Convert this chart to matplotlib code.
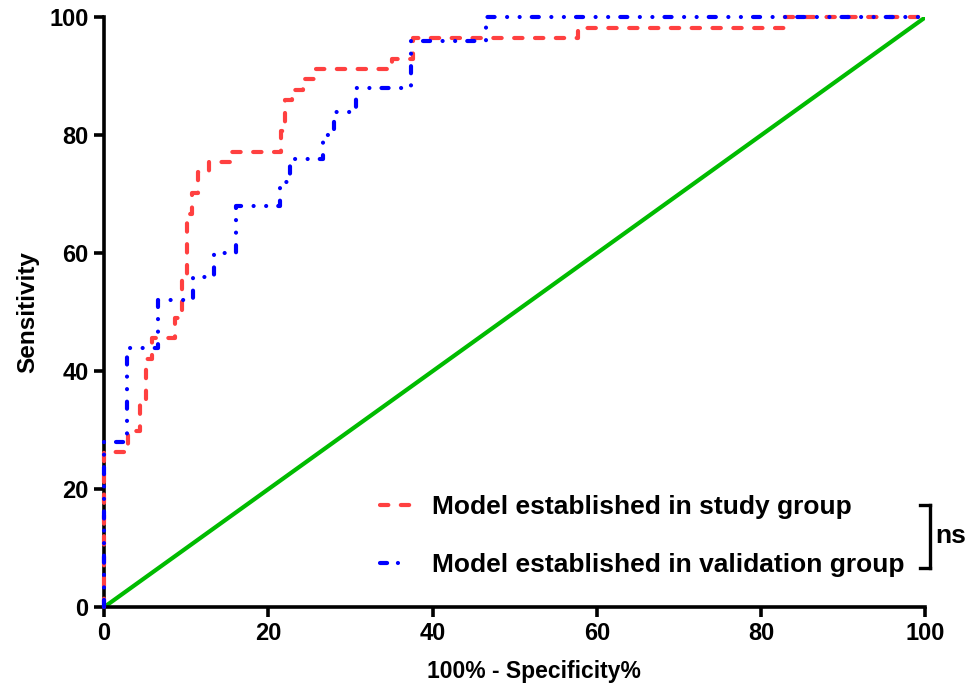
import matplotlib
matplotlib.use("Agg")

import matplotlib.pyplot as plt
from matplotlib.lines import Line2D

plt.rcParams["font.family"] = ["Liberation Sans", "DejaVu Sans"]
plt.rcParams["font.weight"] = "bold"

# ROC step points (100% - specificity, sensitivity)
study_fpr = [0, 0, 2.9, 2.9, 4.4, 4.4, 5.1, 5.1, 5.8, 5.8, 8.6, 8.6, 9.5, 9.5,
             10.1, 10.1, 10.7, 10.7, 11.4, 11.4, 12.8, 12.8, 15.6, 15.6,
             21.5, 21.5, 22.0, 22.0, 22.9, 22.9, 24.2, 24.2, 25.7, 25.7,
             35.1, 35.1, 37.6, 37.6, 57.7, 57.7, 82.8, 82.8, 100]
study_tpr = [0, 26.3, 26.3, 29.8, 29.8, 35.1, 35.1, 42.1, 42.1, 45.6, 45.6,
             49.1, 49.1, 56.1, 56.1, 66.7, 66.7, 70.2, 70.2, 73.7, 73.7,
             75.4, 75.4, 77.2, 77.2, 80.7, 80.7, 86.0, 86.0, 87.7, 87.7,
             89.5, 89.5, 91.2, 91.2, 93.0, 93.0, 96.5, 96.5, 98.2, 98.2,
             100, 100]

valid_fpr = [0, 0, 2.8, 2.8, 6.6, 6.6, 10.8, 10.8, 13.4, 13.4,
             16.1, 16.1, 21.4, 21.4, 22.7, 22.7, 26.7, 26.7, 28.0, 28.0,
             30.7, 30.7, 37.4, 37.4, 46.5, 46.5, 100]
valid_tpr = [0, 28.0, 28.0, 44.0, 44.0, 52.0, 52.0, 56.0, 56.0,
             60.0, 60.0, 68.0, 68.0, 72.0, 72.0, 76.0, 76.0, 80.0, 80.0,
             84.0, 84.0, 88.0, 88.0, 96.0, 96.0, 100, 100]

ref_line = [0, 100]

labels = ["Model established in study group",
          "Model established in validation group"]

RED = "#ff4040"
BLUE = "#0000ff"
GREEN = "#00bb00"
LW = 3.0

fig = plt.figure(figsize=(9.72, 6.9), dpi=100)
ax = fig.add_axes([0.107, 0.120, 0.845, 0.855])

red_ls = (0, (2.0, 3.0))
blue_ls = (0, (1.7, 3.0, 0.01, 3.0, 0.01, 2.9))

ax.plot(ref_line, ref_line, color=GREEN, linewidth=3.0, zorder=2)
ax.plot(study_fpr, study_tpr, color=RED, linewidth=LW, linestyle=red_ls,
        dash_capstyle="round", zorder=3, clip_on=False)
ax.plot(valid_fpr, valid_tpr, color=BLUE, linewidth=LW, linestyle=blue_ls,
        dash_capstyle="round", zorder=4, clip_on=False)

ax.set_xlim(0, 100)
ax.set_ylim(0, 100)
ax.set_xticks(range(0, 101, 20))
ax.set_yticks(range(0, 101, 20))
ax.spines["top"].set_visible(False)
ax.spines["right"].set_visible(False)
for s in ("left", "bottom"):
    ax.spines[s].set_linewidth(2.6)
ax.tick_params(width=2.6, length=7, labelsize=17, pad=4)
for t in ax.get_xticklabels() + ax.get_yticklabels():
    t.set_fontweight("bold")

ax.set_xlabel("100% - Specificity%", fontsize=16.5, fontweight="bold")
ax.xaxis.set_label_coords(0.524, -0.09)
ax.set_ylabel("Sensitivity", fontsize=17.5, fontweight="bold", labelpad=7)

handles = [Line2D([], [], color=RED, linewidth=LW, linestyle=red_ls,
                  dash_capstyle="round"),
           Line2D([], [], color=BLUE, linewidth=LW,
                  linestyle=(0, (1.7, 2.6, 0.01, 10)), dash_capstyle="round")]
fig.legend(handles, labels, loc="center left", bbox_to_anchor=(0.391, 0.223),
           frameon=False, handlelength=1.35, handletextpad=0.6,
           labelspacing=1.3, borderpad=0, borderaxespad=0,
           prop={"weight": "bold", "size": 19})

# significance bracket
bx, y_top, y_bot = 0.957, 0.268, 0.177
fig.add_artist(Line2D([bx, bx], [y_top, y_bot], color="black", linewidth=2.4))
fig.add_artist(Line2D([bx - 0.011, bx], [y_top, y_top], color="black", linewidth=2.4))
fig.add_artist(Line2D([bx - 0.011, bx], [y_bot, y_bot], color="black", linewidth=2.4))
fig.text(bx + 0.005, (y_top + y_bot) / 2, "ns", fontsize=19, fontweight="bold",
         va="center", ha="left")

fig.savefig("out.png", dpi=100)
